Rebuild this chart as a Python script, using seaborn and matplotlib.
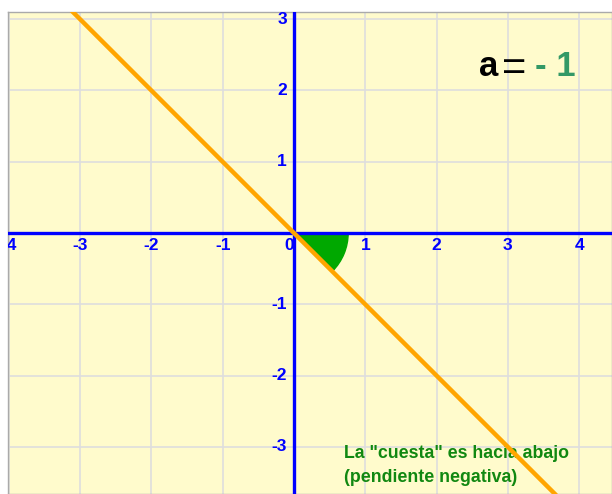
import numpy as np
import pandas as pd
import matplotlib.pyplot as plt
from matplotlib.patches import Wedge
import seaborn as sns

# line y = a*x
slope = -1
x_vals = [-4.5, 4.5]
y_vals = [slope * v for v in x_vals]
x_ticks = [-4, -3, -2, -1, 0, 1, 2, 3, 4]
y_ticks = [-3, -2, -1, 1, 2, 3]
caption = ['La "cuesta" es hacia abajo', '(pendiente negativa)']

df = pd.DataFrame({'x': x_vals, 'y': y_vals})

sns.set_style('white')
plt.rcParams['font.family'] = ['Liberation Sans', 'DejaVu Sans']

fig = plt.figure(figsize=(6.12, 4.94), dpi=100)
ax = fig.add_axes([8 / 612, 0, 604 / 612, 482 / 494])
ax.set_facecolor('#fffbcc')
ax.set_xlim(-4.01, 4.46)
ax.set_ylim(-3.66, 3.10)

# grid
for t in np.arange(-4, 5):
    ax.axvline(t, color='#dedede', lw=1.2, zorder=1)
for t in np.arange(-3, 4):
    ax.axhline(t, color='#dedede', lw=1.2, zorder=1)

# angle wedge
ax.add_patch(Wedge((0, 0), 0.76, -45, 0, color='#00a800', zorder=2))

# axes
ax.axhline(0, color='#0000ff', lw=2.4, zorder=3)
ax.axvline(0, color='#0000ff', lw=2.4, zorder=3)

sns.lineplot(data=df, x='x', y='y', color='#ffa500', lw=3.2, ax=ax, zorder=4)

# tick labels
lab_kw = dict(color='#0000ff', fontsize=12.5, fontweight='bold', clip_on=True, zorder=5)
for t in x_ticks:
    xp = -0.07 if t == 0 else t
    ax.text(xp, -0.07, str(t), ha='center', va='top', **lab_kw)
for t in y_ticks:
    ax.text(-0.1, t, str(t), ha='right', va='center', **lab_kw)

ax.text(2.6, 2.2, 'a', color='black', fontsize=25, fontweight='bold', va='baseline')
ax.text(2.92, 2.14, '=', color='black', fontsize=30, va='baseline')
ax.text(3.38, 2.2, '- 1', color='#339966', fontsize=25, fontweight='bold', va='baseline')

ax.text(0.7, -3.16, caption[0], color='#118811', fontsize=12.8, fontweight='bold', va='baseline')
ax.text(0.7, -3.49, caption[1], color='#118811', fontsize=12.8, fontweight='bold', va='baseline')

ax.set_xticks([])
ax.set_yticks([])
ax.set_xlabel('')
ax.set_ylabel('')
for s in ax.spines.values():
    s.set_color('#aaaaaa')
    s.set_linewidth(1)

fig.savefig('out.png', dpi=100)
